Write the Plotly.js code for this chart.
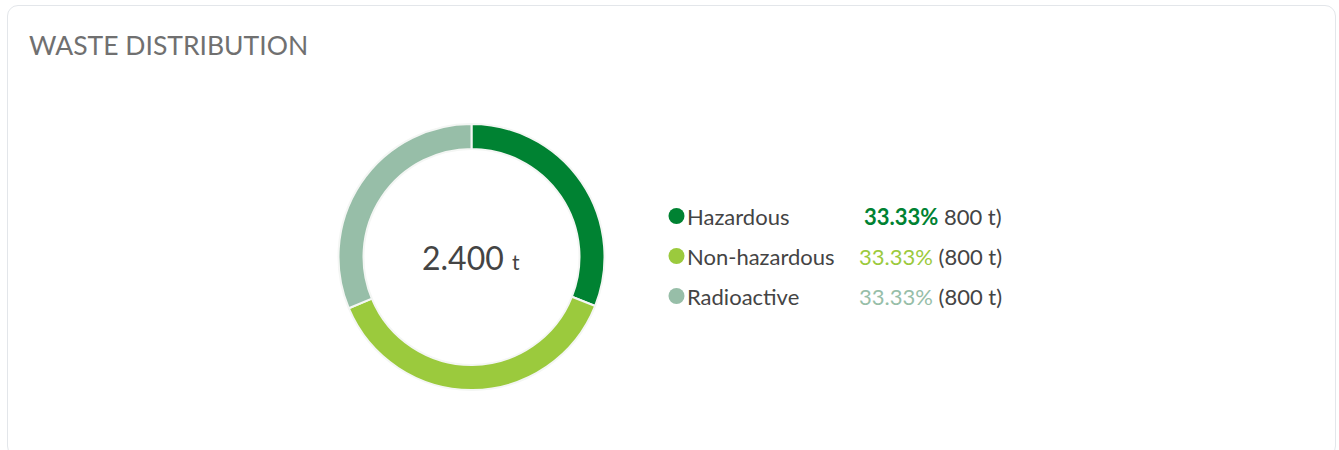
<!DOCTYPE html>
<html>
<head>
<meta charset="utf-8">
<script src="https://cdn.plot.ly/plotly-3.0.1.min.js"></script>
<style>
  html, body { margin: 0; padding: 0; background: #ffffff; width: 1339px; height: 450px; overflow: hidden; }
  #card { position: absolute; left: 7px; top: 5px; width: 1329px; height: 452px; border: 1px solid #e3e6ea; border-radius: 11px; box-sizing: border-box; background: #fff; }
  #chart { position: absolute; left: 0; top: 0; width: 1339px; height: 450px; }
</style>
</head>
<body>
<div id="card"></div>
<div id="chart"></div>
<script>
// ---- data ----
const categories = ["Hazardous", "Non-hazardous", "Radioactive"];
const sliceValues = [744, 905, 751];
const percentLabels = ["33.33%", "33.33%", "33.33%"];
const valueLabels = ["800 t)", "(800 t)", "(800 t)"];
const totalLabel = "2.400";
const unit = "t";
const colors = ["#008232", "#9bca3d", "#97bea8"];

// ---- geometry ----
const W = 1339, H = 450;
const cx = 471.5, cy = 257, R = 133;
const legendX = 676.5, legendY0 = 216, legendStep = 40, dotR = 8;
const valueRight = 1004;

const pie = {
  type: "pie",
  labels: categories,
  values: sliceValues,
  hole: 0.812,
  sort: false,
  direction: "clockwise",
  rotation: 0,
  textinfo: "none",
  hoverinfo: "label+value+percent",
  marker: { colors: colors, line: { color: "#f4f6f4", width: 2 } },
  domain: { x: [(cx - R) / W, (cx + R) / W], y: [(H - cy - R) / H, (H - cy + R) / H] },
  showlegend: false
};

const annotations = [];
const shapes = [];
const font = "Lato, 'Open Sans', sans-serif";

annotations.push({
  xref: "x", yref: "y", x: 27, y: 44.5, xanchor: "left", yanchor: "middle",
  text: "WASTE DISTRIBUTION", showarrow: false,
  font: { family: font, size: 26.5, weight: 400, color: "#707070" }
});

annotations.push({
  xref: "x", yref: "y", x: cx - 0.5, y: cy, xanchor: "center", yanchor: "middle",
  text: totalLabel + " <span style='font-size:21px'>" + unit + "</span>", showarrow: false,
  font: { family: font, size: 32, color: "#444444" }
});

categories.forEach((c, i) => {
  const y = legendY0 + i * legendStep;
  shapes.push({
    type: "circle", xref: "x", yref: "y",
    x0: legendX - dotR, x1: legendX + dotR, y0: y - dotR, y1: y + dotR,
    fillcolor: colors[i], line: { width: 0 }
  });
  annotations.push({
    xref: "x", yref: "y", x: legendX + dotR + 0, y: y, xanchor: "left", yanchor: "middle",
    text: c, showarrow: false,
    font: { family: font, size: 22, color: "#444444" }
  });
  const pct = i === 0 ? "<b>" + percentLabels[i] + "</b>" : percentLabels[i];
  annotations.push({
    xref: "x", yref: "y", x: valueRight, y: y, xanchor: "right", yanchor: "middle",
    text: "<span style='color:" + colors[i] + "'>" + pct + "</span> " + valueLabels[i],
    showarrow: false,
    font: { family: font, size: 22, color: "#444444" }
  });
});

const layout = {
  width: W, height: H,
  margin: { l: 0, r: 0, t: 0, b: 0 },
  paper_bgcolor: "rgba(0,0,0,0)",
  plot_bgcolor: "rgba(0,0,0,0)",
  xaxis: { range: [0, W], visible: false, fixedrange: true },
  yaxis: { range: [H, 0], visible: false, fixedrange: true },
  showlegend: false,
  annotations: annotations,
  shapes: shapes
};

Plotly.newPlot("chart", [pie], layout, { displayModeBar: false, staticPlot: true });
</script>
</body>
</html>
